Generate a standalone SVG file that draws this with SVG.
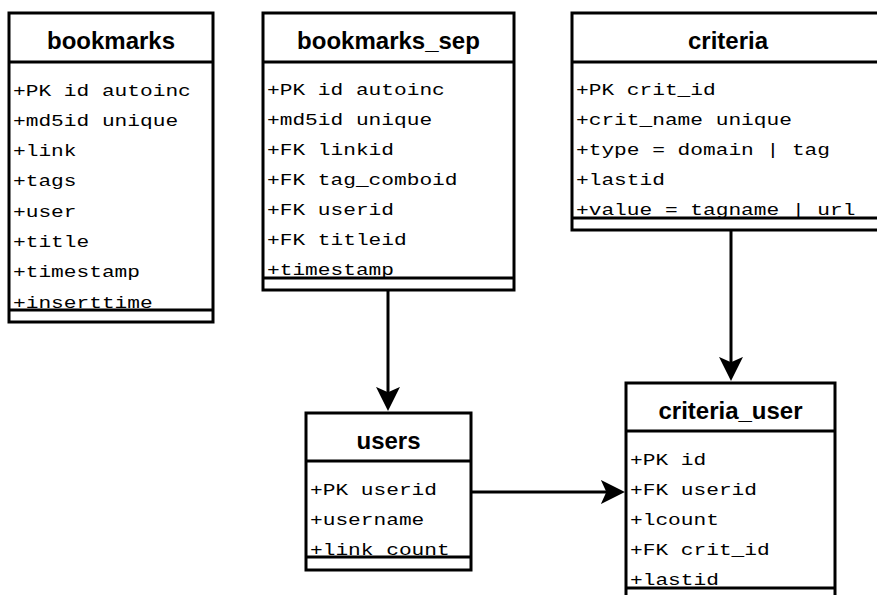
<svg xmlns="http://www.w3.org/2000/svg" width="877" height="595" viewBox="0 0 877 595">
  <style>
    .box { fill: #ffffff; stroke: #000000; stroke-width: 3; }
    .rule { stroke: #000000; stroke-width: 3; fill: none; }
    .title { font-family: "Liberation Sans", Arial, sans-serif; font-weight: bold; font-size: 24px; text-anchor: middle; fill: #000000; }
    .attr { font-family: "Liberation Mono", "DejaVu Sans Mono", monospace; font-size: 16px; fill: #000000; }
    .link { stroke: #000000; stroke-width: 3; fill: none; }
  </style>
  <defs>
    <marker id="arrow" markerUnits="userSpaceOnUse" markerWidth="24" markerHeight="24" viewBox="0 0 22 22" refX="12" refY="11" orient="auto">
      <path d="M0,0 L22,11 L0,22 L5,11 Z" fill="#000000"/>
    </marker>
  </defs>
  <rect width="877" height="595" fill="#ffffff"/>

  <!-- bookmarks table -->
  <g id="bookmarks">
    <rect class="box" x="9" y="13" width="204" height="309"/>
    <line class="rule" x1="9" y1="62" x2="213" y2="62"/>
    <text class="title" x="111" y="49">bookmarks</text>
    <text class="attr" x="13" y="95.5" textLength="177.8" lengthAdjust="spacingAndGlyphs">+PK id autoinc</text>
    <text class="attr" x="13" y="125.8" textLength="165.1" lengthAdjust="spacingAndGlyphs">+md5id unique</text>
    <text class="attr" x="13" y="156.1" textLength="63.5" lengthAdjust="spacingAndGlyphs">+link</text>
    <text class="attr" x="13" y="186.4" textLength="63.5" lengthAdjust="spacingAndGlyphs">+tags</text>
    <text class="attr" x="13" y="216.7" textLength="63.5" lengthAdjust="spacingAndGlyphs">+user</text>
    <text class="attr" x="13" y="247" textLength="76.2" lengthAdjust="spacingAndGlyphs">+title</text>
    <text class="attr" x="13" y="277.3" textLength="127" lengthAdjust="spacingAndGlyphs">+timestamp</text>
    <text class="attr" x="13" y="307.6" textLength="139.7" lengthAdjust="spacingAndGlyphs">+inserttime</text>
    <line class="rule" x1="9" y1="310" x2="213" y2="310"/>
  </g>

  <!-- bookmarks_sep table -->
  <g id="bookmarks_sep">
    <rect class="box" x="263" y="13" width="251" height="277"/>
    <line class="rule" x1="263" y1="62" x2="514" y2="62"/>
    <text class="title" x="388.5" y="49">bookmarks_sep</text>
    <text class="attr" x="267" y="95" textLength="177.8" lengthAdjust="spacingAndGlyphs">+PK id autoinc</text>
    <text class="attr" x="267" y="125" textLength="165.1" lengthAdjust="spacingAndGlyphs">+md5id unique</text>
    <text class="attr" x="267" y="155" textLength="127" lengthAdjust="spacingAndGlyphs">+FK linkid</text>
    <text class="attr" x="267" y="185" textLength="190.5" lengthAdjust="spacingAndGlyphs">+FK tag_comboid</text>
    <text class="attr" x="267" y="215" textLength="127" lengthAdjust="spacingAndGlyphs">+FK userid</text>
    <text class="attr" x="267" y="245" textLength="139.7" lengthAdjust="spacingAndGlyphs">+FK titleid</text>
    <text class="attr" x="267" y="275" textLength="127" lengthAdjust="spacingAndGlyphs">+timestamp</text>
    <line class="rule" x1="263" y1="278" x2="514" y2="278"/>
  </g>

  <!-- criteria table -->
  <g id="criteria">
    <rect class="box" x="572" y="13" width="312" height="217"/>
    <line class="rule" x1="572" y1="62" x2="884" y2="62"/>
    <text class="title" x="728" y="49">criteria</text>
    <text class="attr" x="576" y="95" textLength="139.7" lengthAdjust="spacingAndGlyphs">+PK crit_id</text>
    <text class="attr" x="576" y="125" textLength="215.9" lengthAdjust="spacingAndGlyphs">+crit_name unique</text>
    <text class="attr" x="576" y="155" textLength="254" lengthAdjust="spacingAndGlyphs">+type = domain | tag</text>
    <text class="attr" x="576" y="185" textLength="88.9" lengthAdjust="spacingAndGlyphs">+lastid</text>
    <text class="attr" x="576" y="215" textLength="279.4" lengthAdjust="spacingAndGlyphs">+value = tagname | url</text>
    <line class="rule" x1="572" y1="218" x2="884" y2="218"/>
  </g>

  <!-- users table -->
  <g id="users">
    <rect class="box" x="306" y="413" width="165" height="157"/>
    <line class="rule" x1="306" y1="461" x2="471" y2="461"/>
    <text class="title" x="388.5" y="449">users</text>
    <text class="attr" x="310" y="495" textLength="127" lengthAdjust="spacingAndGlyphs">+PK userid</text>
    <text class="attr" x="310" y="525" textLength="114.3" lengthAdjust="spacingAndGlyphs">+username</text>
    <text class="attr" x="310" y="555" textLength="139.7" lengthAdjust="spacingAndGlyphs">+link_count</text>
    <line class="rule" x1="306" y1="557" x2="471" y2="557"/>
  </g>

  <!-- criteria_user table -->
  <g id="criteria_user">
    <rect class="box" x="626" y="383" width="209" height="217"/>
    <line class="rule" x1="626" y1="431" x2="835" y2="431"/>
    <text class="title" x="730.5" y="419">criteria_user</text>
    <text class="attr" x="630" y="465" textLength="76.2" lengthAdjust="spacingAndGlyphs">+PK id</text>
    <text class="attr" x="630" y="495" textLength="127" lengthAdjust="spacingAndGlyphs">+FK userid</text>
    <text class="attr" x="630" y="525" textLength="88.9" lengthAdjust="spacingAndGlyphs">+lcount</text>
    <text class="attr" x="630" y="555" textLength="139.7" lengthAdjust="spacingAndGlyphs">+FK crit_id</text>
    <text class="attr" x="630" y="585" textLength="88.9" lengthAdjust="spacingAndGlyphs">+lastid</text>
    <line class="rule" x1="626" y1="588" x2="835" y2="588"/>
  </g>

  <!-- relations -->
  <g id="connectors">
    <line class="link" x1="388" y1="290" x2="388" y2="400" marker-end="url(#arrow)"/>
    <line class="link" x1="731" y1="230" x2="731" y2="370" marker-end="url(#arrow)"/>
    <line class="link" x1="471" y1="492" x2="614" y2="492" marker-end="url(#arrow)"/>
  </g>
</svg>
